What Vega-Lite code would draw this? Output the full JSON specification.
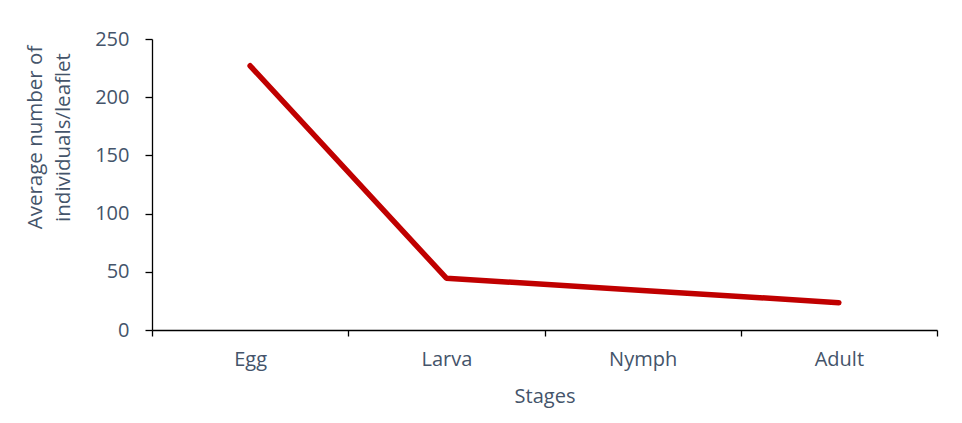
{
  "$schema": "https://vega.github.io/schema/vega-lite/v6.json",
  "width": 785,
  "height": 291,
  "autosize": {"type": "none"},
  "padding": {"left": 152, "top": 39, "right": 25, "bottom": 93},
  "config": {"view": {"stroke": null}, "font": "Open Sans"},
  "data": {"values": [
    {"stage": "Egg", "value": 227},
    {"stage": "Larva", "value": 44.5},
    {"stage": "Nymph", "value": 34},
    {"stage": "Adult", "value": 23.5}
  ]},
  "mark": {"type": "line", "color": "#C00000", "strokeWidth": 5.5, "strokeCap": "round", "strokeJoin": "round"},
  "encoding": {
    "x": {
      "field": "stage", "type": "nominal", "sort": null,
      "scale": {"type": "band", "paddingInner": 0, "paddingOuter": 0},
      "axis": {
        "title": "Stages", "labelAngle": 0, "tickBand": "extent",
        "domainColor": "#000000", "domainWidth": 1.3, "tickColor": "#000000", "tickWidth": 1.3, "tickSize": 6,
        "labelFontSize": 20, "labelColor": "#44546A", "labelPadding": 13,
        "titleFontSize": 20, "titleFontWeight": "normal", "titleColor": "#44546A", "titlePadding": 17
      }
    },
    "y": {
      "field": "value", "type": "quantitative",
      "scale": {"domain": [0, 250], "nice": false},
      "axis": {
        "title": ["Average number of", "individuals/leaflet"],
        "values": [0, 50, 100, 150, 200, 250], "grid": false,
        "domainColor": "#000000", "domainWidth": 1.3, "tickColor": "#000000", "tickWidth": 1.3, "tickSize": 7,
        "labelFontSize": 20, "labelColor": "#44546A", "labelPadding": 16,
        "titleFontSize": 20.5, "titleFontWeight": "normal", "titleColor": "#44546A",
        "titleAngle": -90, "titleAlign": "center", "titleBaseline": "bottom", "titleLineHeight": 28,
        "titleX": -107, "titleY": 98
      }
    }
  }
}
